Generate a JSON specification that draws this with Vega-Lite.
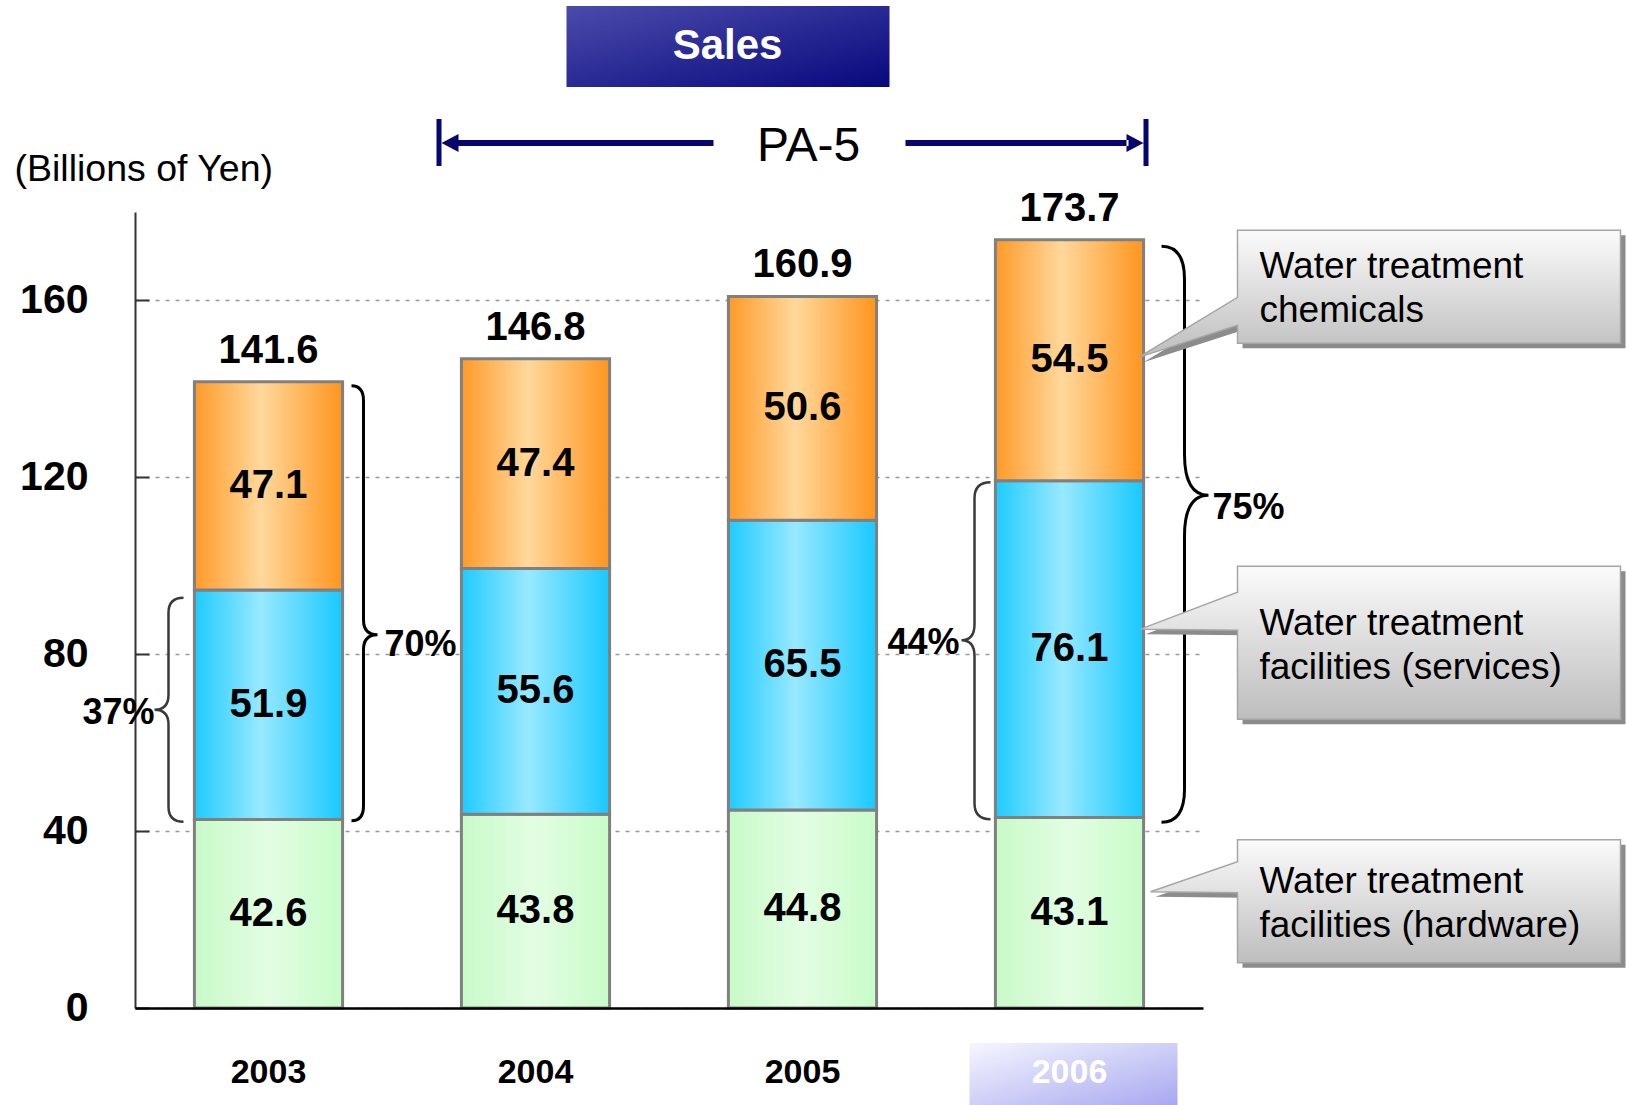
{
  "$schema": "https://vega.github.io/schema/vega-lite/v6.json",
  "width": 1068,
  "height": 796,
  "autosize": {"type": "none"},
  "padding": {"left": 135, "top": 212, "right": 423, "bottom": 97},
  "background": "#ffffff",
  "config": {
    "view": {"stroke": null},
    "font": "Liberation Sans",
    "axis": {"labelFont": "Liberation Sans", "titleFont": "Liberation Sans"}
  },
  "encoding": {
    "x": {
      "field": "year",
      "type": "nominal",
      "title": null,
      "scale": {"domain": ["2003", "2004", "2005", "2006"], "paddingInner": 0.445, "paddingOuter": 0.2225},
      "axis": {
        "title": null,
        "labelAngle": 0,
        "domainColor": "#000000",
        "domainWidth": 2.5,
        "ticks": false,
        "labelFontSize": 34,
        "labelFontWeight": "bold",
        "labelPadding": 47,
        "labelColor": {"condition": {"test": "datum.value === '2006'", "value": "#ffffff"}, "value": "#000000"},
        "zindex": 1
      }
    }
  },
  "layer": [
    {
      "data": {
        "values": [
          {"year": "2003", "segment": "hardware", "value": 42.6},
          {"year": "2003", "segment": "services", "value": 51.9},
          {"year": "2003", "segment": "chemicals", "value": 47.1},
          {"year": "2004", "segment": "hardware", "value": 43.8},
          {"year": "2004", "segment": "services", "value": 55.6},
          {"year": "2004", "segment": "chemicals", "value": 47.4},
          {"year": "2005", "segment": "hardware", "value": 44.8},
          {"year": "2005", "segment": "services", "value": 65.5},
          {"year": "2005", "segment": "chemicals", "value": 50.6},
          {"year": "2006", "segment": "hardware", "value": 43.1},
          {"year": "2006", "segment": "services", "value": 76.1},
          {"year": "2006", "segment": "chemicals", "value": 54.5}
        ]
      },
      "transform": [
        {"stack": "value", "groupby": ["year"], "as": ["y0", "y1"]},
        {"calculate": "(datum.y0 + datum.y1) / 2", "as": "mid"}
      ],
      "layer": [
        {
          "transform": [{"filter": "datum.segment === 'hardware'"}],
          "mark": {
            "type": "bar",
            "fill": {"gradient": "linear", "x1": 0, "y1": 0, "x2": 1, "y2": 0, "stops": [
              {"offset": 0, "color": "#c8fac8"}, {"offset": 0.5, "color": "#e3fde3"}, {"offset": 1, "color": "#c8fcc8"}]},
            "stroke": "#808080",
            "strokeWidth": 3
          },
          "encoding": {
            "y": {
              "field": "y0",
              "type": "quantitative",
              "title": "(Billions of Yen)",
              "scale": {"domain": [0, 180], "nice": false},
              "axis": {
                "values": [0, 40, 80, 120, 160],
                "grid": true,
                "gridDash": [4, 6],
                "gridColor": "#999999",
                "gridWidth": 1.5,
                "domainColor": "#333333",
                "domainWidth": 2,
                "ticks": true,
                "tickSize": -14,
                "tickColor": "#333333",
                "tickWidth": 2,
                "labelFontSize": 41,
                "labelFontWeight": "bold",
                "labelColor": "#000000",
                "labelPadding": 61,
                "labelBaseline": "middle",
                "titleAngle": 0,
                "titleAlign": "left",
                "titleBaseline": "alphabetic",
                "titleX": -121,
                "titleY": -32,
                "titleFontSize": 37.5,
                "titleFontWeight": "normal",
                "titleColor": "#000000",
                "zindex": 0
              }
            },
            "y2": {"field": "y1"}
          }
        },
        {
          "transform": [{"filter": "datum.segment === 'services'"}],
          "mark": {
            "type": "bar",
            "fill": {"gradient": "linear", "x1": 0, "y1": 0, "x2": 1, "y2": 0, "stops": [
              {"offset": 0, "color": "#1ecbff"}, {"offset": 0.45, "color": "#98e9ff"}, {"offset": 1, "color": "#18c8ff"}]},
            "stroke": "#808080",
            "strokeWidth": 3
          },
          "encoding": {
            "y": {"field": "y0", "type": "quantitative", "title": "(Billions of Yen)"},
            "y2": {"field": "y1"}
          }
        },
        {
          "transform": [{"filter": "datum.segment === 'chemicals'"}],
          "mark": {
            "type": "bar",
            "fill": {"gradient": "linear", "x1": 0, "y1": 0, "x2": 1, "y2": 0, "stops": [
              {"offset": 0, "color": "#ff9a28"}, {"offset": 0.45, "color": "#ffd89c"}, {"offset": 1, "color": "#ff951e"}]},
            "stroke": "#808080",
            "strokeWidth": 3
          },
          "encoding": {
            "y": {"field": "y0", "type": "quantitative", "title": "(Billions of Yen)"},
            "y2": {"field": "y1"}
          }
        },
        {
          "mark": {"type": "text", "fontSize": 40, "fontWeight": "bold", "color": "#000000", "align": "center", "baseline": "middle"},
          "encoding": {
            "y": {"field": "mid", "type": "quantitative", "title": "(Billions of Yen)"},
            "text": {"field": "value", "type": "quantitative", "format": ".1f"}
          }
        },
        {
          "transform": [{"filter": "datum.segment === 'chemicals'"}],
          "mark": {"type": "text", "fontSize": 40, "fontWeight": "bold", "color": "#000000", "align": "center", "baseline": "alphabetic", "dy": -19},
          "encoding": {
            "y": {"field": "y1", "type": "quantitative", "title": "(Billions of Yen)"},
            "text": {"field": "y1", "type": "quantitative", "format": ".1f"}
          }
        },
        {
          "transform": [{"filter": "datum.year === '2003' && datum.segment === 'services'"}],
          "mark": {"type": "point", "shape": "M -85 -107 Q -100 -107 -100 -92 L -100 -10 Q -100 5 -114 5 Q -100 5 -100 20 L -100 102 Q -100 117 -85 117", "size": 4, "filled": false, "stroke": "#3a3a3a", "strokeWidth": 2.5, "opacity": 1},
          "encoding": {"y": {"field": "mid", "type": "quantitative", "title": "(Billions of Yen)"}}
        },
        {
          "transform": [{"filter": "datum.year === '2003' && datum.segment === 'services'"}],
          "mark": {"type": "text", "text": "37%", "fontSize": 36, "fontWeight": "bold", "color": "#000000", "align": "right", "baseline": "middle", "dx": -114, "dy": 8},
          "encoding": {"y": {"field": "mid", "type": "quantitative", "title": "(Billions of Yen)"}}
        },
        {
          "transform": [{"filter": "datum.year === '2003' && datum.segment === 'services'"}],
          "mark": {"type": "point", "shape": "M 83 -319 Q 95 -319 95 -304 L 95 -85 Q 95 -70 109 -70 Q 95 -70 95 -55 L 95 101 Q 95 116 83 116", "size": 4, "filled": false, "stroke": "#000000", "strokeWidth": 3, "opacity": 1},
          "encoding": {"y": {"field": "mid", "type": "quantitative", "title": "(Billions of Yen)"}}
        },
        {
          "transform": [{"filter": "datum.year === '2003' && datum.segment === 'services'"}],
          "mark": {"type": "text", "text": "70%", "fontSize": 36, "fontWeight": "bold", "color": "#000000", "align": "left", "baseline": "middle", "dx": 116, "dy": -60},
          "encoding": {"y": {"field": "mid", "type": "quantitative", "title": "(Billions of Yen)"}}
        },
        {
          "transform": [{"filter": "datum.year === '2006' && datum.segment === 'services'"}],
          "mark": {"type": "point", "shape": "M -79 -167 Q -95 -167 -95 -151 L -95 -25 Q -95 -9 -108 -9 Q -95 -9 -95 7 L -95 154 Q -95 170 -79 170", "size": 4, "filled": false, "stroke": "#3a3a3a", "strokeWidth": 2.5, "opacity": 1},
          "encoding": {"y": {"field": "mid", "type": "quantitative", "title": "(Billions of Yen)"}}
        },
        {
          "transform": [{"filter": "datum.year === '2006' && datum.segment === 'services'"}],
          "mark": {"type": "text", "text": "44%", "fontSize": 36, "fontWeight": "bold", "color": "#000000", "align": "right", "baseline": "middle", "dx": -110, "dy": -6},
          "encoding": {"y": {"field": "mid", "type": "quantitative", "title": "(Billions of Yen)"}}
        },
        {
          "transform": [{"filter": "datum.year === '2006' && datum.segment === 'services'"}],
          "mark": {"type": "point", "shape": "M 92 -403 Q 115 -403 115 -370 L 115 -195 Q 115 -154 139 -154 Q 115 -154 115 -113 L 115 140 Q 115 173 92 173", "size": 4, "filled": false, "stroke": "#000000", "strokeWidth": 3, "opacity": 1},
          "encoding": {"y": {"field": "mid", "type": "quantitative", "title": "(Billions of Yen)"}}
        },
        {
          "transform": [{"filter": "datum.year === '2006' && datum.segment === 'services'"}],
          "mark": {"type": "text", "text": "75%", "fontSize": 36, "fontWeight": "bold", "color": "#000000", "align": "left", "baseline": "middle", "dx": 143, "dy": -141},
          "encoding": {"y": {"field": "mid", "type": "quantitative", "title": "(Billions of Yen)"}}
        },
        {
          "transform": [{"filter": "datum.year === '2006' && datum.segment === 'chemicals'"}],
          "mark": {"type": "point", "shape": "M 168 -130 L 551 -130 L 551 -17 L 168 -17 L 168 -35 L 69 -3 L 168 -63 Z", "size": 4, "filled": true, "fill": "#8c8c8c", "strokeWidth": 0, "opacity": 1, "xOffset": 5, "yOffset": 5},
          "encoding": {"y": {"field": "mid", "type": "quantitative", "title": "(Billions of Yen)"}}
        },
        {
          "transform": [{"filter": "datum.year === '2006' && datum.segment === 'chemicals'"}],
          "mark": {"type": "point", "shape": "M 168 -130 L 551 -130 L 551 -17 L 168 -17 L 168 -35 L 69 -3 L 168 -63 Z", "size": 4, "filled": true,
            "fill": {"gradient": "linear", "x1": 0, "y1": 0, "x2": 0, "y2": 1, "stops": [{"offset": 0, "color": "#fbfbfb"}, {"offset": 1, "color": "#bdbdbd"}]},
            "stroke": "#a6a6a6", "strokeWidth": 1.5, "opacity": 1},
          "encoding": {"y": {"field": "mid", "type": "quantitative", "title": "(Billions of Yen)"}}
        },
        {
          "transform": [{"filter": "datum.year === '2006' && datum.segment === 'chemicals'"}],
          "mark": {"type": "text", "text": ["Water treatment", "chemicals"], "fontSize": 37, "lineHeight": 44, "color": "#000000", "align": "left", "baseline": "middle", "dx": 190, "dy": -93},
          "encoding": {"y": {"field": "mid", "type": "quantitative", "title": "(Billions of Yen)"}}
        },
        {
          "transform": [{"filter": "datum.year === '2006' && datum.segment === 'services'"}],
          "mark": {"type": "point", "shape": "M 168 -83 L 551 -83 L 551 70 L 168 70 L 168 -19 L 71 -20 L 168 -57 Z", "size": 4, "filled": true, "fill": "#8c8c8c", "strokeWidth": 0, "opacity": 1, "xOffset": 5, "yOffset": 5},
          "encoding": {"y": {"field": "mid", "type": "quantitative", "title": "(Billions of Yen)"}}
        },
        {
          "transform": [{"filter": "datum.year === '2006' && datum.segment === 'services'"}],
          "mark": {"type": "point", "shape": "M 168 -83 L 551 -83 L 551 70 L 168 70 L 168 -19 L 71 -20 L 168 -57 Z", "size": 4, "filled": true,
            "fill": {"gradient": "linear", "x1": 0, "y1": 0, "x2": 0, "y2": 1, "stops": [{"offset": 0, "color": "#fbfbfb"}, {"offset": 1, "color": "#bdbdbd"}]},
            "stroke": "#a6a6a6", "strokeWidth": 1.5, "opacity": 1},
          "encoding": {"y": {"field": "mid", "type": "quantitative", "title": "(Billions of Yen)"}}
        },
        {
          "transform": [{"filter": "datum.year === '2006' && datum.segment === 'services'"}],
          "mark": {"type": "text", "text": ["Water treatment", "facilities (services)"], "fontSize": 37, "lineHeight": 44, "color": "#000000", "align": "left", "baseline": "middle", "dx": 190, "dy": -25},
          "encoding": {"y": {"field": "mid", "type": "quantitative", "title": "(Billions of Yen)"}}
        },
        {
          "transform": [{"filter": "datum.year === '2006' && datum.segment === 'hardware'"}],
          "mark": {"type": "point", "shape": "M 168 -73 L 551 -73 L 551 50 L 168 50 L 168 -20 L 81 -21 L 168 -51 Z", "size": 4, "filled": true, "fill": "#8c8c8c", "strokeWidth": 0, "opacity": 1, "xOffset": 5, "yOffset": 5},
          "encoding": {"y": {"field": "mid", "type": "quantitative", "title": "(Billions of Yen)"}}
        },
        {
          "transform": [{"filter": "datum.year === '2006' && datum.segment === 'hardware'"}],
          "mark": {"type": "point", "shape": "M 168 -73 L 551 -73 L 551 50 L 168 50 L 168 -20 L 81 -21 L 168 -51 Z", "size": 4, "filled": true,
            "fill": {"gradient": "linear", "x1": 0, "y1": 0, "x2": 0, "y2": 1, "stops": [{"offset": 0, "color": "#fbfbfb"}, {"offset": 1, "color": "#bdbdbd"}]},
            "stroke": "#a6a6a6", "strokeWidth": 1.5, "opacity": 1},
          "encoding": {"y": {"field": "mid", "type": "quantitative", "title": "(Billions of Yen)"}}
        },
        {
          "transform": [{"filter": "datum.year === '2006' && datum.segment === 'hardware'"}],
          "mark": {"type": "text", "text": ["Water treatment", "facilities (hardware)"], "fontSize": 37, "lineHeight": 44, "color": "#000000", "align": "left", "baseline": "middle", "dx": 190, "dy": -31},
          "encoding": {"y": {"field": "mid", "type": "quantitative", "title": "(Billions of Yen)"}}
        }
      ]
    },
    {
      "data": {"values": [{"plan": "PA-5", "from": "2004", "to": "2006"}]},
      "layer": [
        {
          "mark": {"type": "point", "shape": "M -236 -206 H 87 V -125 H -236 Z", "size": 4, "filled": true,
            "fill": {"gradient": "linear", "x1": 0, "y1": 0, "x2": 1, "y2": 1, "stops": [{"offset": 0, "color": "#4b4bab"}, {"offset": 1, "color": "#08087e"}]},
            "strokeWidth": 0, "opacity": 1},
          "encoding": {"x": {"datum": "2005"}, "y": {"datum": 180, "type": "quantitative", "title": "(Billions of Yen)"}}
        },
        {
          "mark": {"type": "text", "text": "Sales", "fontSize": 42, "fontWeight": "bold", "color": "#ffffff", "align": "center", "baseline": "middle", "dx": -75, "dy": -166},
          "encoding": {"x": {"datum": "2005"}, "y": {"datum": 180, "type": "quantitative", "title": "(Billions of Yen)"}}
        },
        {
          "mark": {"type": "point", "shape": "M -366 -93 H -361 V -46 H -366 Z M -361 -69 L -344 -78 L -344 -60 Z M -346 -72 H -89 V -66 H -346 Z M 103 -72 H 326 V -66 H 103 Z M 341 -69 L 324 -78 L 324 -60 Z M 341 -93 H 346 V -46 H 341 Z", "size": 4, "filled": true, "fill": "#06066e", "strokeWidth": 0, "opacity": 1},
          "encoding": {"x": {"datum": "2005"}, "y": {"datum": 180, "type": "quantitative", "title": "(Billions of Yen)"}}
        },
        {
          "mark": {"type": "text", "fontSize": 48, "fontWeight": "normal", "color": "#000000", "align": "center", "baseline": "middle", "dx": 6, "dy": -65},
          "encoding": {"x": {"datum": "2005"}, "y": {"datum": 180, "type": "quantitative", "title": "(Billions of Yen)"}, "text": {"field": "plan"}}
        },
        {
          "mark": {"type": "point", "shape": "M -100 35 H 108 V 97 H -100 Z", "size": 4, "filled": true,
            "fill": {"gradient": "linear", "x1": 0, "y1": 0, "x2": 1, "y2": 1, "stops": [{"offset": 0, "color": "#f6f6ff"}, {"offset": 1, "color": "#a8a8f0"}]},
            "strokeWidth": 0, "opacity": 1},
          "encoding": {"x": {"datum": "2006"}, "y": {"datum": 0, "type": "quantitative", "title": "(Billions of Yen)"}}
        }
      ]
    }
  ]
}
